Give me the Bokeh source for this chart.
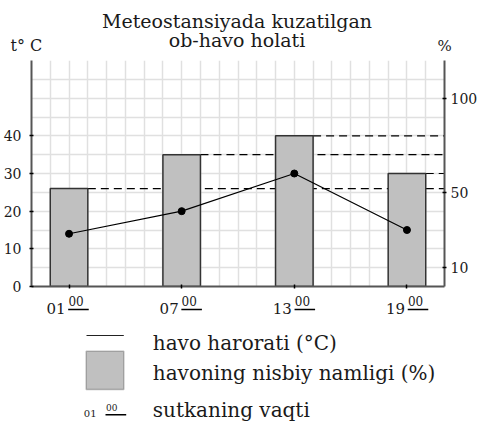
from bokeh.plotting import figure
from bokeh.layouts import column
from bokeh.models import (Range1d, LinearAxis, FixedTicker, SingleIntervalTicker,
                          Label, BoxAnnotation)
from bokeh.embed import file_html
from bokeh.resources import INLINE

# ---- data ----
hours = [1, 7, 13, 19]
hour_labels = ["01", "07", "13", "19"]
minute_label = "00"
temperature = [14, 20, 30, 15]      # °C
humidity = [52, 70, 80, 60]         # %
temp_ticks = [0, 10, 20, 30, 40]
pct_ticks = [10, 50, 100]
title_lines = ["Meteostansiyada kuzatilgan", "ob-havo holati"]
left_unit = "t° C"
right_unit = "%"
legend_texts = ["havo harorati (°C)", "havoning nisbiy namligi (%)", "sutkaning vaqti"]
legend_hour = "01"

# ---- style / layout ----
FONT = "DejaVu Serif"
TXT = "#1a1a1a"
AXIS = "#555555"
BAR_FILL = "#c0c0c0"
BAR_LINE = "#333333"
GRID = "#e0e0e0"
W = 483
TOP_H = 60
FRAME_H = 226
MAIN_BOTTOM = 9
BOT_H = 421 - TOP_H - FRAME_H - MAIN_BOTTOM
BORDER_L, BORDER_R = 29, 39
FRAME_W = W - BORDER_L - BORDER_R
x_start, x_end = -1, 21
bar_width = 2

# ---- main chart ----
p = figure(width=W, height=FRAME_H + MAIN_BOTTOM, output_backend="svg", toolbar_location=None,
           x_range=Range1d(x_start, x_end), y_range=Range1d(0, 60),
           min_border_left=BORDER_L, min_border_right=BORDER_R, min_border_top=0,
           min_border_bottom=MAIN_BOTTOM, frame_align=False)
p.extra_y_ranges = {"pct": Range1d(0, 120)}
p.outline_line_color = None

p.xgrid.ticker = SingleIntervalTicker(interval=1)
p.ygrid.ticker = SingleIntervalTicker(interval=5)
p.grid.grid_line_color = GRID
p.grid.grid_line_width = 1.5


def style_axis(ax):
    ax.axis_line_color = AXIS
    ax.axis_line_width = 2
    ax.major_tick_in = 2
    ax.major_tick_out = 2
    ax.major_tick_line_color = "black"
    ax.major_tick_line_width = 1.5
    ax.minor_tick_line_color = None
    ax.major_label_text_font = FONT
    ax.major_label_text_font_size = "14px"
    ax.major_label_text_color = TXT


for ax in p.xaxis + p.yaxis:
    style_axis(ax)
p.xaxis.ticker = FixedTicker(ticks=hours)
p.xaxis.major_label_overrides = {h: "" for h in hours}
p.xaxis.major_label_text_font_size = "0px"
p.xaxis.major_label_standoff = 0
p.yaxis.ticker = FixedTicker(ticks=temp_ticks)
p.yaxis.major_label_standoff = 8

rax = LinearAxis(y_range_name="pct", ticker=FixedTicker(ticks=pct_ticks))
style_axis(rax)
rax.major_label_standoff = 4
p.add_layout(rax, "right")

# dashed guide lines from bar tops to the humidity axis (behind bars)
p.segment(x0=[h + bar_width / 2 for h in hours], x1=[x_end] * len(hours),
          y0=humidity, y1=humidity, y_range_name="pct",
          line_color="black", line_width=1.2, line_dash="8 5")

# humidity bars
p.vbar(x=hours, width=bar_width, top=humidity, bottom=0, y_range_name="pct",
       fill_color=BAR_FILL, line_color=BAR_LINE, line_width=1.5)

# temperature line
p.line(hours, temperature, line_color="black", line_width=1.2)
p.scatter(hours, temperature, size=7, fill_color="black", line_color="black")

# ---- aux figures sharing the same horizontal pixel scale ----
ppu = FRAME_W / (x_end - x_start)


def aux_fig(h):
    f = figure(width=W, height=h, output_backend="svg", toolbar_location=None,
               x_range=Range1d(x_start - BORDER_L / ppu, x_end + BORDER_R / ppu),
               y_range=Range1d(0, h), x_axis_type=None, y_axis_type=None,
               min_border=0, frame_align=False)
    f.outline_line_color = None
    return f


def text(fig, t, x, y, size, xu="screen", align="left", xoff=0):
    fig.add_layout(Label(x=x, y=y, x_units=xu, y_units="screen", text=t, x_offset=xoff,
                         text_align=align, text_baseline="middle",
                         text_font=FONT, text_font_size=size, text_color=TXT))


def box(fig, l, r, t, b, fill, line=None, lu="screen"):
    fig.add_layout(BoxAnnotation(left=l, right=r, top=t, bottom=b,
                                 left_units=lu, right_units=lu,
                                 top_units="screen", bottom_units="screen",
                                 fill_color=fill, fill_alpha=1,
                                 line_color=line, line_width=1.5))


top = aux_fig(TOP_H)
mid = (x_start + x_end) / 2
for t, yc in zip(title_lines, [39.5, 20.3]):
    text(top, t, mid, yc, "19px", xu="data", align="center")
text(top, left_unit, 10, 15.5, "16px")
text(top, right_unit, 437, 14.6, "15px")

bot = aux_fig(BOT_H)
# x tick labels: hour + underlined superscript minutes
for h, lab in zip(hours, hour_labels):
    text(bot, lab, h, 113.3, "15px", xu="data", align="right", xoff=-1.7)
    text(bot, minute_label, h, 120.2, "12px", xu="data", align="left", xoff=1.2)
    box(bot, h + 0.05, h + 1.14, 112.75, 111.25, "black", lu="data")

# legend keys
box(bot, 86, 123.3, 86.5, 85.5, "#222222")
box(bot, 85.7, 123.3, 70.3, 32, BAR_FILL, BAR_LINE)
text(bot, legend_hour, 83.3, 7.8, "10px")
text(bot, minute_label, 105.5, 14.1, "9px")
box(bot, 105, 125.7, 7.4, 6.0, "black")
for t, yc in zip(legend_texts, [79, 49, 11.3]):
    text(bot, t, 152.3, yc, "20px")

layout = column(top, p, bot, spacing=0)
open("out.html", "w").write(file_html(layout, INLINE))
